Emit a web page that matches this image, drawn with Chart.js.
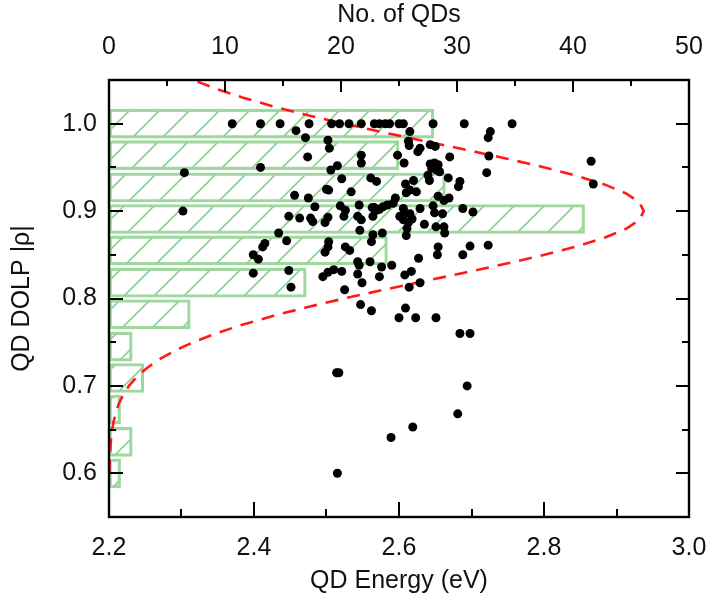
<!DOCTYPE html>
<html>
<head>
<meta charset="utf-8">
<script src="https://cdn.jsdelivr.net/npm/chart.js@4/dist/chart.umd.min.js"></script>
<style>
  html, body { margin: 0; padding: 0; background: #fff; }
  #wrap { width: 709px; height: 601px; }
</style>
</head>
<body>
<div id="wrap"><canvas id="c" width="709" height="601"></canvas></div>
<script>
// DOLP histogram: bin centres and number of QDs per bin
const binCenters = [1.000, 0.964, 0.927, 0.891, 0.855, 0.818, 0.782, 0.745, 0.709, 0.673, 0.636, 0.600];
const binCounts  = [28, 25, 29, 41, 24, 17, 7, 2, 3, 1, 2, 1];

// Gaussian fit of the histogram, sampled along DOLP
const fitDolp = [0.60, 0.61, 0.62, 0.63, 0.64, 0.65, 0.66, 0.67, 0.68, 0.69,
                 0.70, 0.71, 0.72, 0.73, 0.74, 0.75, 0.76, 0.77, 0.78, 0.79, 0.80, 0.81, 0.82, 0.83, 0.84,
                 0.85, 0.86, 0.87, 0.88, 0.89, 0.90, 0.91, 0.92, 0.93, 0.94, 0.95, 0.96, 0.97, 0.98, 0.99,
                 1.00, 1.01, 1.02, 1.03, 1.04, 1.05, 1.06];
const fitCount = [0.03, 0.05, 0.07, 0.12, 0.18, 0.27, 0.41, 0.60, 0.86, 1.23,
                  1.72, 2.37, 3.22, 4.29, 5.62, 7.26, 9.21, 11.50, 14.11, 17.05, 20.27, 23.69, 27.24, 30.82, 34.29,
                  37.54, 40.42, 42.81, 44.61, 45.72, 46.10, 45.72, 44.61, 42.81, 40.42, 37.54, 34.29, 30.82, 27.24, 23.69,
                  20.27, 17.05, 14.11, 11.50, 9.21, 7.26, 5.62];

// Individual quantum dots: emission energy (eV) and DOLP
const qdEnergy = [
  2.370, 2.409, 2.436, 2.476, 2.507, 2.518, 2.531, 2.548, 2.566, 2.573, 2.581, 2.587, 2.600, 2.606, 2.647, 2.690, 2.756,
  2.458, 2.471, 2.502, 2.504, 2.474, 2.409, 2.304, 2.302, 2.548, 2.548, 2.515, 2.506, 2.521, 2.561, 2.569, 2.500,
  2.503, 2.534, 2.456, 2.475, 2.484, 2.519, 2.545, 2.563, 2.526, 2.448, 2.463, 2.478, 2.481, 2.498, 2.502, 2.524,
  2.543, 2.548, 2.434, 2.445, 2.415, 2.412, 2.399, 2.406, 2.399, 2.448, 2.451, 2.503, 2.502, 2.498, 2.526, 2.532,
  2.546, 2.562, 2.495, 2.502, 2.510, 2.521, 2.543, 2.545, 2.560, 2.543, 2.549, 2.525, 2.547, 2.562, 2.615, 2.726,
  2.723, 2.613, 2.614, 2.629, 2.626, 2.643, 2.650, 2.598, 2.607, 2.670, 2.724, 2.643, 2.649, 2.654, 2.645, 2.652,
  2.656, 2.640, 2.642, 2.721, 2.620, 2.609, 2.668, 2.684, 2.682, 2.615, 2.624, 2.610, 2.654, 2.662, 2.669, 2.595,
  2.592, 2.584, 2.578, 2.566, 2.569, 2.573, 2.606, 2.608, 2.615, 2.629, 2.647, 2.649, 2.660, 2.688, 2.702, 2.601,
  2.618, 2.635, 2.651, 2.662, 2.663, 2.564, 2.606, 2.613, 2.611, 2.564, 2.577, 2.610, 2.654, 2.653, 2.698, 2.723,
  2.688, 2.627, 2.576, 2.590, 2.573, 2.617, 2.608, 2.614, 2.629, 2.609, 2.600, 2.623, 2.651, 2.684, 2.698, 2.514,
  2.517, 2.694, 2.681, 2.619, 2.589, 2.515, 2.865, 2.868
];
const qdDolp = [
  1.000, 1.000, 1.000, 1.000, 1.000, 1.000, 1.000, 1.000, 1.000, 1.000, 1.000, 1.000, 1.000, 1.000, 1.000, 1.000, 1.000,
  0.992, 0.984, 0.981, 0.972, 0.962, 0.950, 0.944, 0.900, 0.964, 0.955, 0.952, 0.947, 0.937, 0.938, 0.934, 0.925,
  0.924, 0.922, 0.918, 0.915, 0.905, 0.906, 0.907, 0.904, 0.901, 0.894, 0.892, 0.892, 0.888, 0.887, 0.893, 0.894,
  0.894, 0.890, 0.875, 0.866, 0.863, 0.859, 0.850, 0.845, 0.829, 0.832, 0.813, 0.865, 0.859, 0.853, 0.859, 0.855,
  0.878, 0.865, 0.825, 0.830, 0.833, 0.831, 0.842, 0.838, 0.842, 0.828, 0.818, 0.810, 0.793, 0.786, 0.991, 0.991,
  0.984, 0.980, 0.975, 0.972, 0.968, 0.976, 0.974, 0.964, 0.955, 0.962, 0.963, 0.954, 0.955, 0.953, 0.949, 0.947,
  0.945, 0.941, 0.935, 0.944, 0.935, 0.931, 0.938, 0.934, 0.928, 0.924, 0.922, 0.921, 0.917, 0.912, 0.915, 0.915,
  0.909, 0.907, 0.905, 0.904, 0.901, 0.902, 0.903, 0.898, 0.897, 0.903, 0.906, 0.898, 0.897, 0.903, 0.899, 0.894,
  0.891, 0.885, 0.882, 0.882, 0.875, 0.894, 0.890, 0.887, 0.880, 0.873, 0.875, 0.872, 0.859, 0.850, 0.860, 0.861,
  0.850, 0.846, 0.836, 0.838, 0.825, 0.831, 0.827, 0.813, 0.818, 0.789, 0.778, 0.778, 0.778, 0.760, 0.760, 0.715,
  0.715, 0.700, 0.668, 0.653, 0.641, 0.600, 0.957, 0.931
];

// Axis ticks
const energyTicks = [2.2, 2.4, 2.6, 2.8, 3.0];
const energyMinor = [2.3, 2.5, 2.7, 2.9];
const countTicks  = [0, 10, 20, 30, 40, 50];
const countMinor  = [5, 15, 25, 35, 45];
const dolpTicks   = [0.6, 0.7, 0.8, 0.9, 1.0];
const dolpMinor   = [0.65, 0.75, 0.85, 0.95];

const canvas = document.getElementById('c');
const ctx = canvas.getContext('2d');

// light green diagonal hatching for the histogram bars
function makeHatch(color) {
  const s = 30;
  const tile = document.createElement('canvas');
  tile.width = s; tile.height = s;
  const g = tile.getContext('2d');
  g.strokeStyle = color;
  g.lineWidth = 1.6;
  g.beginPath();
  g.moveTo(-2, s + 2); g.lineTo(s + 2, -2);
  g.moveTo(-2, 2); g.lineTo(2, -2);
  g.moveTo(s - 2, s + 2); g.lineTo(s + 2, s - 2);
  g.stroke();
  return ctx.createPattern(tile, 'repeat');
}

// box frame with inward major / minor ticks on all four sides
const framePlugin = {
  id: 'frame',
  afterDatasetsDraw(chart) {
    const { ctx, chartArea: a, scales } = chart;
    const xs = scales.x, xt = scales.xTop, ys = scales.y;
    ctx.save();
    ctx.strokeStyle = '#000';
    ctx.lineWidth = 2;
    ctx.lineCap = 'butt';
    ctx.beginPath();
    const vTick = (scale, vals, len, edge, dir) => vals.forEach(v => {
      const p = Math.round(scale.getPixelForValue(v));
      ctx.moveTo(p, edge); ctx.lineTo(p, edge + dir * len);
    });
    const hTick = (scale, vals, len, edge, dir) => vals.forEach(v => {
      const p = Math.round(scale.getPixelForValue(v));
      ctx.moveTo(edge, p); ctx.lineTo(edge + dir * len, p);
    });
    vTick(xs, energyTicks, 15, a.bottom, -1);
    vTick(xs, energyMinor, 8, a.bottom, -1);
    vTick(xt, countTicks, 12, a.top, 1);
    vTick(xt, countMinor, 6, a.top, 1);
    hTick(ys, dolpTicks, 14, a.left, 1);
    hTick(ys, dolpMinor, 7, a.left, 1);
    hTick(ys, dolpTicks, 13, a.right, -1);
    hTick(ys, dolpMinor, 7, a.right, -1);
    ctx.stroke();
    ctx.lineWidth = 2.4;
    ctx.strokeRect(a.left, a.top, a.right - a.left, a.bottom - a.top);
    ctx.restore();
  }
};

const FONT = { family: '"Liberation Sans", Arial, Helvetica, sans-serif', size: 25 };
const TEXT = '#111';
const noGrid = { display: false, drawTicks: false, tickLength: 0 };
const noPad = s => { s.paddingLeft = 0; s.paddingRight = 0; s.paddingTop = 0; s.paddingBottom = 0; };

new Chart(ctx, {
  type: 'scatter',
  data: {
    datasets: [
      {
        type: 'scatter',
        label: 'QDs',
        data: qdEnergy.map((e, i) => ({ x: e, y: qdDolp[i] })),
        xAxisID: 'x', yAxisID: 'y',
        backgroundColor: '#000',
        borderWidth: 0,
        pointRadius: 4.5,
        pointHoverRadius: 4.5
      },
      {
        type: 'line',
        label: 'Gaussian fit',
        indexAxis: 'y',
        data: fitDolp.map((d, i) => ({ x: fitCount[i], y: d })),
        xAxisID: 'xTop', yAxisID: 'y',
        borderColor: '#ff1a1a',
        borderWidth: 2.6,
        borderDash: [13, 9],
        pointRadius: 0,
        tension: 0,
        fill: false
      },
      {
        type: 'bar',
        label: 'No. of QDs',
        indexAxis: 'y',
        grouped: false,
        data: binCenters.map((d, i) => ({ x: binCounts[i], y: d })),
        xAxisID: 'xTop', yAxisID: 'y',
        backgroundColor: makeHatch('#8fd08f'),
        borderColor: '#9fd89f',
        borderWidth: 2.5,
        borderSkipped: false,
        barThickness: 29
      }
    ]
  },
  options: {
    responsive: false,
    animation: false,
    devicePixelRatio: 1,
    layout: { padding: { left: 0, right: 20, top: 0, bottom: 0 } },
    plugins: { legend: { display: false }, tooltip: { enabled: false } },
    scales: {
      x: {
        type: 'linear', position: 'bottom', min: 2.2, max: 3.0, offset: false,
        grid: noGrid, border: { display: false },
        afterBuildTicks: s => { s.ticks = energyTicks.map(v => ({ value: v })); },
        afterFit: s => { s.height = 84; noPad(s); },
        ticks: { autoSkip: false, maxRotation: 0, padding: 16, color: TEXT, font: FONT,
                 callback: v => Number(v).toFixed(1) },
        title: { display: true, text: 'QD Energy (eV)', color: TEXT, font: FONT,
                 padding: { top: 0, bottom: 5 } }
      },
      xTop: {
        type: 'linear', position: 'top', min: 0, max: 50, offset: false,
        grid: noGrid, border: { display: false },
        afterBuildTicks: s => { s.ticks = countTicks.map(v => ({ value: v })); },
        afterFit: s => { s.height = 80; noPad(s); },
        ticks: { autoSkip: false, maxRotation: 0, padding: 18, color: TEXT, font: FONT,
                 callback: v => String(v) },
        title: { display: true, text: 'No. of QDs', color: TEXT, font: FONT,
                 padding: { top: 0, bottom: 0 } }
      },
      y: {
        type: 'linear', position: 'left', min: 0.55, max: 1.05, offset: false,
        grid: noGrid, border: { display: false },
        afterBuildTicks: s => { s.ticks = dolpTicks.map(v => ({ value: v })); },
        afterFit: s => { s.width = 109; noPad(s); },
        ticks: { autoSkip: false, padding: 12, color: TEXT, font: FONT,
                 callback: v => Number(v).toFixed(1) },
        title: { display: true, text: 'QD DOLP |ρ|', color: TEXT, font: FONT,
                 padding: { top: 7, bottom: 0 } }
      }
    }
  },
  plugins: [framePlugin]
});
</script>
</body>
</html>
